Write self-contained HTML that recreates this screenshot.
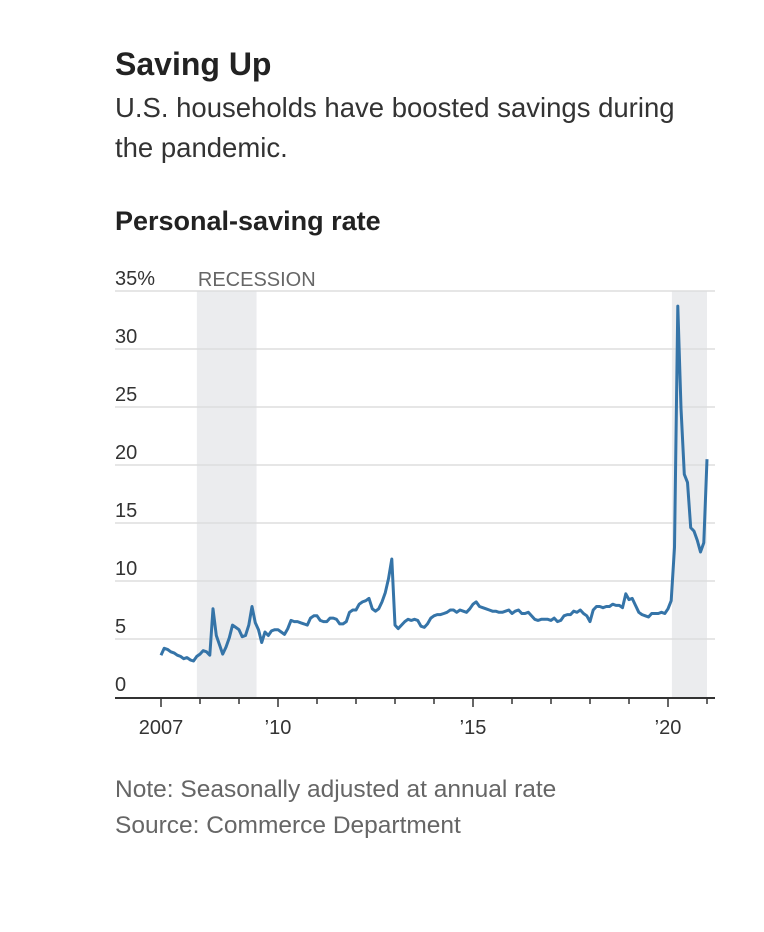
<!DOCTYPE html>
<html><head><meta charset="utf-8"><style>
body{margin:0;background:#fff;font-family:"Liberation Sans",sans-serif;}
.t{position:absolute;left:115px;color:#222;}
</style></head><body>
<div style="position:relative;width:764px;height:932px;overflow:hidden">
<div class="t" style="top:46px;font-size:32px;font-weight:bold;">Saving Up</div>
<div class="t" style="top:88px;font-size:27.5px;line-height:40px;width:600px;color:#333">U.S. households have boosted savings during<br>the pandemic.</div>
<div class="t" style="top:206px;font-size:27px;font-weight:bold;">Personal-saving rate</div>
<svg id="c" width="764" height="760" style="position:absolute;left:0;top:0"></svg>
<div class="t" style="top:776px;font-size:24.5px;color:#666">Note: Seasonally adjusted at annual rate</div>
<div class="t" style="top:812px;font-size:24.5px;color:#666">Source: Commerce Department</div>
</div>
<script>
const yTicks=[0,5,10,15,20,25,30,35];
const yTickLabels=["0","5","10","15","20","25","30","35%"];
const xMajor=[2007,2010,2015,2020];
const xMajorLabels=["2007","’10","’15","’20"];
const recessions=[[2007.92,2009.45],[2020.1,2021.0]];
const startYear=2007;
const savingRate=[
3.6,4.2,4.1,3.9,3.8,3.6,3.5,3.3,3.4,3.2,3.1,3.5,
3.7,4.0,3.9,3.6,7.6,5.3,4.5,3.7,4.3,5.1,6.2,6.0,
5.8,5.2,5.3,6.2,7.8,6.4,5.8,4.7,5.6,5.3,5.7,5.8,
5.8,5.6,5.4,5.9,6.6,6.5,6.5,6.4,6.3,6.2,6.8,7.0,
7.0,6.6,6.5,6.5,6.8,6.8,6.7,6.3,6.3,6.5,7.3,7.5,
7.5,8.0,8.2,8.3,8.5,7.6,7.4,7.6,8.2,9.0,10.2,11.9,
6.2,5.9,6.2,6.5,6.7,6.6,6.7,6.6,6.1,6.0,6.3,6.8,
7.0,7.1,7.1,7.2,7.3,7.5,7.5,7.3,7.5,7.4,7.3,7.6,
8.0,8.2,7.8,7.7,7.6,7.5,7.4,7.4,7.3,7.3,7.4,7.5,
7.2,7.4,7.5,7.2,7.2,7.3,7.0,6.7,6.6,6.7,6.7,6.7,
6.6,6.8,6.5,6.6,7.0,7.1,7.1,7.4,7.3,7.5,7.2,7.0,
6.5,7.5,7.8,7.8,7.7,7.8,7.8,8.0,7.9,7.9,7.7,8.9,
8.4,8.5,7.9,7.3,7.1,7.0,6.9,7.2,7.2,7.2,7.3,7.2,
7.6,8.3,12.9,33.7,24.9,19.2,18.5,14.6,14.3,13.5,12.5,13.3,
20.5];
const NS="http://www.w3.org/2000/svg";
const svg=document.getElementById('c');
const X=t=>161+(t-2007)*39;
const Y=v=>697-v*11.6;
function mk(tag,a){const e=document.createElementNS(NS,tag);for(const k in a)e.setAttribute(k,a[k]);svg.appendChild(e);return e;}
recessions.forEach(r=>{
const e=mk('rect',{x:X(r[0]),y:Y(35),width:X(r[1])-X(r[0]),height:Y(0)-Y(35),fill:'#ebecee'});


});
const rl=mk('text',{x:X(recessions[0][0])+1,y:286,'font-size':20,fill:'#666','font-family':'Liberation Sans Narrow, Liberation Sans, sans-serif'});
rl.textContent='RECESSION';


yTicks.forEach((v,i)=>{
if(v>0){const g=mk('line',{x1:115,x2:715,y1:Y(v),y2:Y(v),stroke:'#ddd','stroke-width':1.5});

}
const t=mk('text',{x:115,y:Y(v)-6,'font-size':20,fill:'#333'});
t.textContent=yTickLabels[i];


});
const ax=mk('line',{x1:115,x2:715,y1:698,y2:698,stroke:'#333','stroke-width':2});


for(let yr=2007;yr<=2021;yr++){
const maj=xMajor.includes(yr);
const tk=mk('line',{x1:X(yr),x2:X(yr),y1:698,y2:maj?707:704,stroke:'#333','stroke-width':1.5});


}
xMajor.forEach((yr,i)=>{
const t=mk('text',{x:X(yr),y:734,'font-size':20,fill:'#333','text-anchor':'middle'});
t.textContent=xMajorLabels[i];


});
const d=savingRate.map((v,i)=>(i?'L':'M')+X(startYear+i/12).toFixed(1)+' '+Y(v).toFixed(1)).join(' ');
const p=mk('path',{d:d,fill:'none',stroke:'#3574a8','stroke-width':3,'stroke-linejoin':'round'});


</script>
</body></html>
